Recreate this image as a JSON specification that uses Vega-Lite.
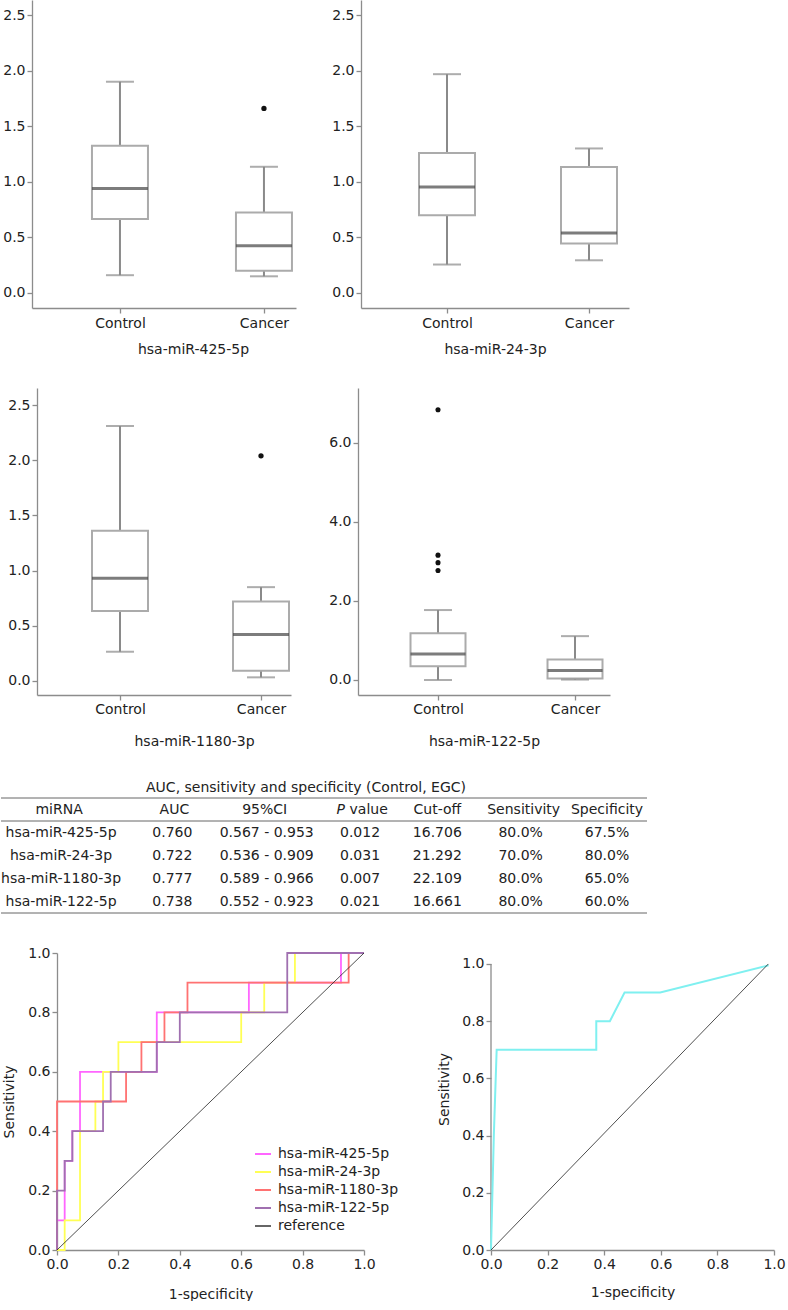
{
 "$schema": "https://vega.github.io/schema/vega-lite/v6.json",
 "background": "white",
 "padding": 0,
 "spacing": 32,
 "resolve": {"scale": {"color": "independent"}, "legend": {"color": "independent"}},
 "config": {
  "font": "DejaVu Sans",
  "view": {"stroke": null},
  "axis": {"labelFontSize": 14, "titleFontSize": 14, "titleFontWeight": "normal", "labelColor": "#222222", "titleColor": "#222222", "domainColor": "#8c8c8c", "tickColor": "#8c8c8c", "domainWidth": 1.3, "tickWidth": 1.3, "tickSize": 5, "labelPadding": 2, "grid": false},
  "text": {"fontSize": 14, "color": "#222222"}
 },
 "datasets": {
  "boxes": [
   {"mirna": "hsa-miR-425-5p", "group": "Control", "lower": 0.16, "q1": 0.665, "median": 0.94, "q3": 1.325, "upper": 1.9},
   {"mirna": "hsa-miR-425-5p", "group": "Cancer", "lower": 0.15, "q1": 0.2, "median": 0.425, "q3": 0.725, "upper": 1.135},
   {"mirna": "hsa-miR-24-3p", "group": "Control", "lower": 0.256, "q1": 0.7, "median": 0.954, "q3": 1.26, "upper": 1.968},
   {"mirna": "hsa-miR-24-3p", "group": "Cancer", "lower": 0.294, "q1": 0.445, "median": 0.54, "q3": 1.134, "upper": 1.3},
   {"mirna": "hsa-miR-1180-3p", "group": "Control", "lower": 0.265, "q1": 0.635, "median": 0.93, "q3": 1.36, "upper": 2.31},
   {"mirna": "hsa-miR-1180-3p", "group": "Cancer", "lower": 0.033, "q1": 0.093, "median": 0.42, "q3": 0.72, "upper": 0.85},
   {"mirna": "hsa-miR-122-5p", "group": "Control", "lower": 0.0, "q1": 0.35, "median": 0.66, "q3": 1.18, "upper": 1.77},
   {"mirna": "hsa-miR-122-5p", "group": "Cancer", "lower": 0.01, "q1": 0.04, "median": 0.24, "q3": 0.52, "upper": 1.11}
  ],
  "outliers": [
   {"mirna": "hsa-miR-425-5p", "group": "Cancer", "value": 1.66},
   {"mirna": "hsa-miR-1180-3p", "group": "Cancer", "value": 2.04},
   {"mirna": "hsa-miR-122-5p", "group": "Control", "value": 6.84},
   {"mirna": "hsa-miR-122-5p", "group": "Control", "value": 3.16},
   {"mirna": "hsa-miR-122-5p", "group": "Control", "value": 2.97},
   {"mirna": "hsa-miR-122-5p", "group": "Control", "value": 2.77}
  ],
  "table": [
   {"miRNA": "hsa-miR-425-5p", "AUC": "0.760", "CI": "0.567 - 0.953", "P": "0.012", "cutoff": "16.706", "sens": "80.0%", "spec": "67.5%"},
   {"miRNA": "hsa-miR-24-3p", "AUC": "0.722", "CI": "0.536 - 0.909", "P": "0.031", "cutoff": "21.292", "sens": "70.0%", "spec": "80.0%"},
   {"miRNA": "hsa-miR-1180-3p", "AUC": "0.777", "CI": "0.589 - 0.966", "P": "0.007", "cutoff": "22.109", "sens": "80.0%", "spec": "65.0%"},
   {"miRNA": "hsa-miR-122-5p", "AUC": "0.738", "CI": "0.552 - 0.923", "P": "0.021", "cutoff": "16.661", "sens": "80.0%", "spec": "60.0%"}
  ],
  "header": [
   {"miRNA": "miRNA", "AUC": "AUC", "CI": "95%CI", "P": "P", "Pv": "value", "cutoff": "Cut-off", "sens": "Sensitivity", "spec": "Specificity"}
  ],
  "roc": [
   {"series": "hsa-miR-425-5p", "fpr": 0, "tpr": 0},
   {"series": "hsa-miR-425-5p", "fpr": 0, "tpr": 0.1},
   {"series": "hsa-miR-425-5p", "fpr": 0.025, "tpr": 0.1},
   {"series": "hsa-miR-425-5p", "fpr": 0.025, "tpr": 0.3},
   {"series": "hsa-miR-425-5p", "fpr": 0.05, "tpr": 0.3},
   {"series": "hsa-miR-425-5p", "fpr": 0.05, "tpr": 0.4},
   {"series": "hsa-miR-425-5p", "fpr": 0.075, "tpr": 0.4},
   {"series": "hsa-miR-425-5p", "fpr": 0.075, "tpr": 0.6},
   {"series": "hsa-miR-425-5p", "fpr": 0.325, "tpr": 0.6},
   {"series": "hsa-miR-425-5p", "fpr": 0.325, "tpr": 0.8},
   {"series": "hsa-miR-425-5p", "fpr": 0.625, "tpr": 0.8},
   {"series": "hsa-miR-425-5p", "fpr": 0.625, "tpr": 0.9},
   {"series": "hsa-miR-425-5p", "fpr": 0.925, "tpr": 0.9},
   {"series": "hsa-miR-425-5p", "fpr": 0.925, "tpr": 1},
   {"series": "hsa-miR-425-5p", "fpr": 1, "tpr": 1},
   {"series": "hsa-miR-24-3p", "fpr": 0, "tpr": 0},
   {"series": "hsa-miR-24-3p", "fpr": 0.025, "tpr": 0},
   {"series": "hsa-miR-24-3p", "fpr": 0.025, "tpr": 0.1},
   {"series": "hsa-miR-24-3p", "fpr": 0.075, "tpr": 0.1},
   {"series": "hsa-miR-24-3p", "fpr": 0.075, "tpr": 0.4},
   {"series": "hsa-miR-24-3p", "fpr": 0.125, "tpr": 0.4},
   {"series": "hsa-miR-24-3p", "fpr": 0.125, "tpr": 0.5},
   {"series": "hsa-miR-24-3p", "fpr": 0.15, "tpr": 0.5},
   {"series": "hsa-miR-24-3p", "fpr": 0.15, "tpr": 0.6},
   {"series": "hsa-miR-24-3p", "fpr": 0.2, "tpr": 0.6},
   {"series": "hsa-miR-24-3p", "fpr": 0.2, "tpr": 0.7},
   {"series": "hsa-miR-24-3p", "fpr": 0.6, "tpr": 0.7},
   {"series": "hsa-miR-24-3p", "fpr": 0.6, "tpr": 0.8},
   {"series": "hsa-miR-24-3p", "fpr": 0.675, "tpr": 0.8},
   {"series": "hsa-miR-24-3p", "fpr": 0.675, "tpr": 0.9},
   {"series": "hsa-miR-24-3p", "fpr": 0.775, "tpr": 0.9},
   {"series": "hsa-miR-24-3p", "fpr": 0.775, "tpr": 1},
   {"series": "hsa-miR-24-3p", "fpr": 1, "tpr": 1},
   {"series": "hsa-miR-1180-3p", "fpr": 0, "tpr": 0},
   {"series": "hsa-miR-1180-3p", "fpr": 0, "tpr": 0.5},
   {"series": "hsa-miR-1180-3p", "fpr": 0.225, "tpr": 0.5},
   {"series": "hsa-miR-1180-3p", "fpr": 0.225, "tpr": 0.6},
   {"series": "hsa-miR-1180-3p", "fpr": 0.275, "tpr": 0.6},
   {"series": "hsa-miR-1180-3p", "fpr": 0.275, "tpr": 0.7},
   {"series": "hsa-miR-1180-3p", "fpr": 0.35, "tpr": 0.7},
   {"series": "hsa-miR-1180-3p", "fpr": 0.35, "tpr": 0.8},
   {"series": "hsa-miR-1180-3p", "fpr": 0.425, "tpr": 0.8},
   {"series": "hsa-miR-1180-3p", "fpr": 0.425, "tpr": 0.9},
   {"series": "hsa-miR-1180-3p", "fpr": 0.95, "tpr": 0.9},
   {"series": "hsa-miR-1180-3p", "fpr": 0.95, "tpr": 1},
   {"series": "hsa-miR-1180-3p", "fpr": 1, "tpr": 1},
   {"series": "hsa-miR-122-5p", "fpr": 0, "tpr": 0},
   {"series": "hsa-miR-122-5p", "fpr": 0, "tpr": 0.2},
   {"series": "hsa-miR-122-5p", "fpr": 0.025, "tpr": 0.2},
   {"series": "hsa-miR-122-5p", "fpr": 0.025, "tpr": 0.3},
   {"series": "hsa-miR-122-5p", "fpr": 0.05, "tpr": 0.3},
   {"series": "hsa-miR-122-5p", "fpr": 0.05, "tpr": 0.4},
   {"series": "hsa-miR-122-5p", "fpr": 0.15, "tpr": 0.4},
   {"series": "hsa-miR-122-5p", "fpr": 0.15, "tpr": 0.5},
   {"series": "hsa-miR-122-5p", "fpr": 0.175, "tpr": 0.5},
   {"series": "hsa-miR-122-5p", "fpr": 0.175, "tpr": 0.6},
   {"series": "hsa-miR-122-5p", "fpr": 0.325, "tpr": 0.6},
   {"series": "hsa-miR-122-5p", "fpr": 0.325, "tpr": 0.7},
   {"series": "hsa-miR-122-5p", "fpr": 0.4, "tpr": 0.7},
   {"series": "hsa-miR-122-5p", "fpr": 0.4, "tpr": 0.8},
   {"series": "hsa-miR-122-5p", "fpr": 0.75, "tpr": 0.8},
   {"series": "hsa-miR-122-5p", "fpr": 0.75, "tpr": 1},
   {"series": "hsa-miR-122-5p", "fpr": 1, "tpr": 1}
  ],
  "combined": [
   {"fpr": 0, "tpr": 0},
   {"fpr": 0.01, "tpr": 0.4},
   {"fpr": 0.02, "tpr": 0.7},
   {"fpr": 0.372, "tpr": 0.7},
   {"fpr": 0.372, "tpr": 0.8},
   {"fpr": 0.42, "tpr": 0.8},
   {"fpr": 0.472, "tpr": 0.9},
   {"fpr": 0.598, "tpr": 0.9},
   {"fpr": 0.981, "tpr": 0.995}
  ]
 },
 "vconcat": [
  {
   "spacing": 0,
   "hconcat": [
    {"width": 1, "height": 1, "view": {"fill": "#ffffff", "stroke": null}, "data": {"values": []}, "mark": "point"},
    {
     "width": 264, "height": 308,
     "data": {"name": "boxes"},
     "transform": [{"filter": "datum.mirna === 'hsa-miR-425-5p'"}],
     "encoding": {"x": {"field": "group", "type": "nominal", "scale": {"type": "point", "domain": ["Control", "Cancer"], "padding": 0.4167, "align": 0.733}, "axis": {"title": "hsa-miR-425-5p", "labelAngle": 0, "labelPadding": 3, "titleX": 161, "titlePadding": 12}}},
     "layer": [
      {"mark": {"type": "rule", "color": "#8a8a8a", "strokeWidth": 2}, "encoding": {"y": {"field": "lower", "type": "quantitative", "scale": {"domain": [-0.135, 2.635], "nice": false, "zero": false}, "axis": {"title": null, "values": [0, 0.5, 1, 1.5, 2, 2.5], "format": ".1f", "minExtent": 28, "maxExtent": 28}}, "y2": {"field": "upper"}}},
      {"mark": {"type": "bar", "fill": "#ffffff", "stroke": "#ababab", "strokeWidth": 2, "size": 56}, "encoding": {"y": {"field": "q1", "type": "quantitative", "scale": {"domain": [-0.135, 2.635], "nice": false, "zero": false}, "axis": {"title": null, "values": [0, 0.5, 1, 1.5, 2, 2.5], "format": ".1f", "minExtent": 28, "maxExtent": 28}}, "y2": {"field": "q3"}}},
      {"mark": {"type": "tick", "color": "#444444", "thickness": 3, "size": 56}, "encoding": {"y": {"field": "median", "type": "quantitative", "scale": {"domain": [-0.135, 2.635], "nice": false, "zero": false}, "axis": {"title": null, "values": [0, 0.5, 1, 1.5, 2, 2.5], "format": ".1f", "minExtent": 28, "maxExtent": 28}}}},
      {"mark": {"type": "tick", "color": "#8a8a8a", "thickness": 2, "size": 28}, "encoding": {"y": {"field": "lower", "type": "quantitative", "scale": {"domain": [-0.135, 2.635], "nice": false, "zero": false}, "axis": {"title": null, "values": [0, 0.5, 1, 1.5, 2, 2.5], "format": ".1f", "minExtent": 28, "maxExtent": 28}}}},
      {"mark": {"type": "tick", "color": "#8a8a8a", "thickness": 2, "size": 28}, "encoding": {"y": {"field": "upper", "type": "quantitative", "scale": {"domain": [-0.135, 2.635], "nice": false, "zero": false}, "axis": {"title": null, "values": [0, 0.5, 1, 1.5, 2, 2.5], "format": ".1f", "minExtent": 28, "maxExtent": 28}}}},
      {"data": {"name": "outliers"}, "transform": [{"filter": "datum.mirna === 'hsa-miR-425-5p'"}], "mark": {"type": "circle", "color": "#111111", "opacity": 1, "size": 28}, "encoding": {"y": {"field": "value", "type": "quantitative", "scale": {"domain": [-0.135, 2.635], "nice": false, "zero": false}, "axis": {"title": null, "values": [0, 0.5, 1, 1.5, 2, 2.5], "format": ".1f", "minExtent": 28, "maxExtent": 28}}}}
     ]
    },
    {
     "width": 268, "height": 308,
     "data": {"name": "boxes"},
     "transform": [{"filter": "datum.mirna === 'hsa-miR-24-3p'"}],
     "encoding": {"x": {"field": "group", "type": "nominal", "scale": {"type": "point", "domain": ["Control", "Cancer"], "padding": 0.4437, "align": 0.6825}, "axis": {"title": "hsa-miR-24-3p", "labelAngle": 0, "labelPadding": 3, "titleX": 134, "titlePadding": 12}}},
     "layer": [
      {"mark": {"type": "rule", "color": "#8a8a8a", "strokeWidth": 2}, "encoding": {"y": {"field": "lower", "type": "quantitative", "scale": {"domain": [-0.135, 2.635], "nice": false, "zero": false}, "axis": {"title": null, "values": [0, 0.5, 1, 1.5, 2, 2.5], "format": ".1f", "minExtent": 65, "maxExtent": 65}}, "y2": {"field": "upper"}}},
      {"mark": {"type": "bar", "fill": "#ffffff", "stroke": "#ababab", "strokeWidth": 2, "size": 56}, "encoding": {"y": {"field": "q1", "type": "quantitative", "scale": {"domain": [-0.135, 2.635], "nice": false, "zero": false}, "axis": {"title": null, "values": [0, 0.5, 1, 1.5, 2, 2.5], "format": ".1f", "minExtent": 65, "maxExtent": 65}}, "y2": {"field": "q3"}}},
      {"mark": {"type": "tick", "color": "#444444", "thickness": 3, "size": 56}, "encoding": {"y": {"field": "median", "type": "quantitative", "scale": {"domain": [-0.135, 2.635], "nice": false, "zero": false}, "axis": {"title": null, "values": [0, 0.5, 1, 1.5, 2, 2.5], "format": ".1f", "minExtent": 65, "maxExtent": 65}}}},
      {"mark": {"type": "tick", "color": "#8a8a8a", "thickness": 2, "size": 28}, "encoding": {"y": {"field": "lower", "type": "quantitative", "scale": {"domain": [-0.135, 2.635], "nice": false, "zero": false}, "axis": {"title": null, "values": [0, 0.5, 1, 1.5, 2, 2.5], "format": ".1f", "minExtent": 65, "maxExtent": 65}}}},
      {"mark": {"type": "tick", "color": "#8a8a8a", "thickness": 2, "size": 28}, "encoding": {"y": {"field": "upper", "type": "quantitative", "scale": {"domain": [-0.135, 2.635], "nice": false, "zero": false}, "axis": {"title": null, "values": [0, 0.5, 1, 1.5, 2, 2.5], "format": ".1f", "minExtent": 65, "maxExtent": 65}}}}
     ]
    }
   ]
  },
  {
   "spacing": 0,
   "hconcat": [
    {"width": 1, "height": 1, "view": {"fill": "#ffffff", "stroke": null}, "data": {"values": []}, "mark": "point"},
    {
     "width": 254, "height": 307,
     "data": {"name": "boxes"},
     "transform": [{"filter": "datum.mirna === 'hsa-miR-1180-3p'"}],
     "encoding": {"x": {"field": "group", "type": "nominal", "scale": {"type": "point", "domain": ["Control", "Cancer"], "padding": 0.4007, "align": 0.7345}, "axis": {"title": "hsa-miR-1180-3p", "labelAngle": 0, "labelPadding": 2, "titleX": 157, "titlePadding": 18}}},
     "layer": [
      {"mark": {"type": "rule", "color": "#8a8a8a", "strokeWidth": 2}, "encoding": {"y": {"field": "lower", "type": "quantitative", "scale": {"domain": [-0.127, 2.654], "nice": false, "zero": false}, "axis": {"title": null, "values": [0, 0.5, 1, 1.5, 2, 2.5], "format": ".1f", "minExtent": 35, "maxExtent": 35}}, "y2": {"field": "upper"}}},
      {"mark": {"type": "bar", "fill": "#ffffff", "stroke": "#ababab", "strokeWidth": 2, "size": 56}, "encoding": {"y": {"field": "q1", "type": "quantitative", "scale": {"domain": [-0.127, 2.654], "nice": false, "zero": false}, "axis": {"title": null, "values": [0, 0.5, 1, 1.5, 2, 2.5], "format": ".1f", "minExtent": 35, "maxExtent": 35}}, "y2": {"field": "q3"}}},
      {"mark": {"type": "tick", "color": "#444444", "thickness": 3, "size": 56}, "encoding": {"y": {"field": "median", "type": "quantitative", "scale": {"domain": [-0.127, 2.654], "nice": false, "zero": false}, "axis": {"title": null, "values": [0, 0.5, 1, 1.5, 2, 2.5], "format": ".1f", "minExtent": 35, "maxExtent": 35}}}},
      {"mark": {"type": "tick", "color": "#8a8a8a", "thickness": 2, "size": 28}, "encoding": {"y": {"field": "lower", "type": "quantitative", "scale": {"domain": [-0.127, 2.654], "nice": false, "zero": false}, "axis": {"title": null, "values": [0, 0.5, 1, 1.5, 2, 2.5], "format": ".1f", "minExtent": 35, "maxExtent": 35}}}},
      {"mark": {"type": "tick", "color": "#8a8a8a", "thickness": 2, "size": 28}, "encoding": {"y": {"field": "upper", "type": "quantitative", "scale": {"domain": [-0.127, 2.654], "nice": false, "zero": false}, "axis": {"title": null, "values": [0, 0.5, 1, 1.5, 2, 2.5], "format": ".1f", "minExtent": 35, "maxExtent": 35}}}},
      {"data": {"name": "outliers"}, "transform": [{"filter": "datum.mirna === 'hsa-miR-1180-3p'"}], "mark": {"type": "circle", "color": "#111111", "opacity": 1, "size": 28}, "encoding": {"y": {"field": "value", "type": "quantitative", "scale": {"domain": [-0.127, 2.654], "nice": false, "zero": false}, "axis": {"title": null, "values": [0, 0.5, 1, 1.5, 2, 2.5], "format": ".1f", "minExtent": 35, "maxExtent": 35}}}}
     ]
    },
    {
     "width": 252, "height": 307,
     "data": {"name": "boxes"},
     "transform": [{"filter": "datum.mirna === 'hsa-miR-122-5p'"}],
     "encoding": {"x": {"field": "group", "type": "nominal", "scale": {"type": "point", "domain": ["Control", "Cancer"], "padding": 0.4197, "align": 0.6957}, "axis": {"title": "hsa-miR-122-5p", "labelAngle": 0, "labelPadding": 2, "titleX": 126, "titlePadding": 18}}},
     "layer": [
      {"mark": {"type": "rule", "color": "#8a8a8a", "strokeWidth": 2}, "encoding": {"y": {"field": "lower", "type": "quantitative", "scale": {"domain": [-0.38, 7.39], "nice": false, "zero": false}, "axis": {"title": null, "values": [0, 2, 4, 6], "format": ".1f", "minExtent": 67, "maxExtent": 67}}, "y2": {"field": "upper"}}},
      {"mark": {"type": "bar", "fill": "#ffffff", "stroke": "#ababab", "strokeWidth": 2, "size": 55}, "encoding": {"y": {"field": "q1", "type": "quantitative", "scale": {"domain": [-0.38, 7.39], "nice": false, "zero": false}, "axis": {"title": null, "values": [0, 2, 4, 6], "format": ".1f", "minExtent": 67, "maxExtent": 67}}, "y2": {"field": "q3"}}},
      {"mark": {"type": "tick", "color": "#444444", "thickness": 3, "size": 55}, "encoding": {"y": {"field": "median", "type": "quantitative", "scale": {"domain": [-0.38, 7.39], "nice": false, "zero": false}, "axis": {"title": null, "values": [0, 2, 4, 6], "format": ".1f", "minExtent": 67, "maxExtent": 67}}}},
      {"mark": {"type": "tick", "color": "#8a8a8a", "thickness": 2, "size": 28}, "encoding": {"y": {"field": "lower", "type": "quantitative", "scale": {"domain": [-0.38, 7.39], "nice": false, "zero": false}, "axis": {"title": null, "values": [0, 2, 4, 6], "format": ".1f", "minExtent": 67, "maxExtent": 67}}}},
      {"mark": {"type": "tick", "color": "#8a8a8a", "thickness": 2, "size": 28}, "encoding": {"y": {"field": "upper", "type": "quantitative", "scale": {"domain": [-0.38, 7.39], "nice": false, "zero": false}, "axis": {"title": null, "values": [0, 2, 4, 6], "format": ".1f", "minExtent": 67, "maxExtent": 67}}}},
      {"data": {"name": "outliers"}, "transform": [{"filter": "datum.mirna === 'hsa-miR-122-5p'"}], "mark": {"type": "circle", "color": "#111111", "opacity": 1, "size": 26}, "encoding": {"y": {"field": "value", "type": "quantitative", "scale": {"domain": [-0.38, 7.39], "nice": false, "zero": false}, "axis": {"title": null, "values": [0, 2, 4, 6], "format": ".1f", "minExtent": 67, "maxExtent": 67}}}}
     ]
    }
   ]
  },
  {
   "width": 646, "height": 115,
   "title": {"text": "AUC, sensitivity and specificity (Control, EGC)", "fontSize": 14, "fontWeight": "normal", "color": "#222222", "anchor": "middle", "offset": 3, "dx": -18},
   "data": {"name": "table"},
   "encoding": {"y": {"field": "miRNA", "type": "nominal", "scale": {"type": "band", "domain": ["header", "hsa-miR-425-5p", "hsa-miR-24-3p", "hsa-miR-1180-3p", "hsa-miR-122-5p"], "paddingInner": 0, "paddingOuter": 0}, "axis": null}},
   "layer": [
    {"data": {"values": [{}]}, "mark": {"type": "rule", "color": "#666666", "strokeWidth": 1}, "encoding": {"y": {"datum": "header", "type": "nominal", "bandPosition": 0}}},
    {"data": {"values": [{}]}, "mark": {"type": "rule", "color": "#666666", "strokeWidth": 1}, "encoding": {"y": {"datum": "header", "type": "nominal", "bandPosition": 1}}},
    {"data": {"values": [{}]}, "mark": {"type": "rule", "color": "#666666", "strokeWidth": 1}, "encoding": {"y": {"datum": "hsa-miR-122-5p", "type": "nominal", "bandPosition": 1}}},
    {"mark": {"type": "text", "fontSize": 14, "dx": 2}, "encoding": {"x": {"datum": "miRNA", "type": "nominal", "scale": {"type": "point", "domain": ["miRNA", "AUC", "95%CI", "P value", "Cut-off", "Sensitivity", "Specificity"], "padding": 0.537, "align": 0.592}, "axis": null}, "text": {"field": "miRNA"}}},
    {"mark": {"type": "text", "fontSize": 14, "dx": 22}, "encoding": {"x": {"datum": "AUC", "type": "nominal", "scale": {"type": "point", "domain": ["miRNA", "AUC", "95%CI", "P value", "Cut-off", "Sensitivity", "Specificity"], "padding": 0.537, "align": 0.592}, "axis": null}, "text": {"field": "AUC"}}},
    {"mark": {"type": "text", "fontSize": 14, "dx": 25}, "encoding": {"x": {"datum": "95%CI", "type": "nominal", "scale": {"type": "point", "domain": ["miRNA", "AUC", "95%CI", "P value", "Cut-off", "Sensitivity", "Specificity"], "padding": 0.537, "align": 0.592}, "axis": null}, "text": {"field": "CI"}}},
    {"mark": {"type": "text", "fontSize": 14, "dx": 27}, "encoding": {"x": {"datum": "P value", "type": "nominal", "scale": {"type": "point", "domain": ["miRNA", "AUC", "95%CI", "P value", "Cut-off", "Sensitivity", "Specificity"], "padding": 0.537, "align": 0.592}, "axis": null}, "text": {"field": "P"}}},
    {"mark": {"type": "text", "fontSize": 14, "dx": 13}, "encoding": {"x": {"datum": "Cut-off", "type": "nominal", "scale": {"type": "point", "domain": ["miRNA", "AUC", "95%CI", "P value", "Cut-off", "Sensitivity", "Specificity"], "padding": 0.537, "align": 0.592}, "axis": null}, "text": {"field": "cutoff"}}},
    {"mark": {"type": "text", "fontSize": 14, "dx": 5}, "encoding": {"x": {"datum": "Sensitivity", "type": "nominal", "scale": {"type": "point", "domain": ["miRNA", "AUC", "95%CI", "P value", "Cut-off", "Sensitivity", "Specificity"], "padding": 0.537, "align": 0.592}, "axis": null}, "text": {"field": "sens"}}},
    {"mark": {"type": "text", "fontSize": 14, "dx": 0}, "encoding": {"x": {"datum": "Specificity", "type": "nominal", "scale": {"type": "point", "domain": ["miRNA", "AUC", "95%CI", "P value", "Cut-off", "Sensitivity", "Specificity"], "padding": 0.537, "align": 0.592}, "axis": null}, "text": {"field": "spec"}}},
    {"data": {"name": "header"}, "mark": {"type": "text", "fontSize": 14, "dx": 0}, "encoding": {"x": {"datum": "miRNA", "type": "nominal", "scale": {"type": "point", "domain": ["miRNA", "AUC", "95%CI", "P value", "Cut-off", "Sensitivity", "Specificity"], "padding": 0.537, "align": 0.592}, "axis": null}, "y": {"datum": "header", "type": "nominal"}, "text": {"field": "miRNA"}}},
    {"data": {"name": "header"}, "mark": {"type": "text", "fontSize": 14, "dx": 24}, "encoding": {"x": {"datum": "AUC", "type": "nominal", "scale": {"type": "point", "domain": ["miRNA", "AUC", "95%CI", "P value", "Cut-off", "Sensitivity", "Specificity"], "padding": 0.537, "align": 0.592}, "axis": null}, "y": {"datum": "header", "type": "nominal"}, "text": {"field": "AUC"}}},
    {"data": {"name": "header"}, "mark": {"type": "text", "fontSize": 14, "dx": 23}, "encoding": {"x": {"datum": "95%CI", "type": "nominal", "scale": {"type": "point", "domain": ["miRNA", "AUC", "95%CI", "P value", "Cut-off", "Sensitivity", "Specificity"], "padding": 0.537, "align": 0.592}, "axis": null}, "y": {"datum": "header", "type": "nominal"}, "text": {"field": "CI"}}},
    {"data": {"name": "header"}, "mark": {"type": "text", "fontSize": 14, "dx": 12, "align": "right", "fontStyle": "italic"}, "encoding": {"x": {"datum": "P value", "type": "nominal", "scale": {"type": "point", "domain": ["miRNA", "AUC", "95%CI", "P value", "Cut-off", "Sensitivity", "Specificity"], "padding": 0.537, "align": 0.592}, "axis": null}, "y": {"datum": "header", "type": "nominal"}, "text": {"field": "P"}}},
    {"data": {"name": "header"}, "mark": {"type": "text", "fontSize": 14, "dx": 16.5, "align": "left"}, "encoding": {"x": {"datum": "P value", "type": "nominal", "scale": {"type": "point", "domain": ["miRNA", "AUC", "95%CI", "P value", "Cut-off", "Sensitivity", "Specificity"], "padding": 0.537, "align": 0.592}, "axis": null}, "y": {"datum": "header", "type": "nominal"}, "text": {"field": "Pv"}}},
    {"data": {"name": "header"}, "mark": {"type": "text", "fontSize": 14, "dx": 13}, "encoding": {"x": {"datum": "Cut-off", "type": "nominal", "scale": {"type": "point", "domain": ["miRNA", "AUC", "95%CI", "P value", "Cut-off", "Sensitivity", "Specificity"], "padding": 0.537, "align": 0.592}, "axis": null}, "y": {"datum": "header", "type": "nominal"}, "text": {"field": "cutoff"}}},
    {"data": {"name": "header"}, "mark": {"type": "text", "fontSize": 14, "dx": 8}, "encoding": {"x": {"datum": "Sensitivity", "type": "nominal", "scale": {"type": "point", "domain": ["miRNA", "AUC", "95%CI", "P value", "Cut-off", "Sensitivity", "Specificity"], "padding": 0.537, "align": 0.592}, "axis": null}, "y": {"datum": "header", "type": "nominal"}, "text": {"field": "sens"}}},
    {"data": {"name": "header"}, "mark": {"type": "text", "fontSize": 14, "dx": 0}, "encoding": {"x": {"datum": "Specificity", "type": "nominal", "scale": {"type": "point", "domain": ["miRNA", "AUC", "95%CI", "P value", "Cut-off", "Sensitivity", "Specificity"], "padding": 0.537, "align": 0.592}, "axis": null}, "y": {"datum": "header", "type": "nominal"}, "text": {"field": "spec"}}}
   ]
  },
  {
   "spacing": 0,
   "resolve": {"scale": {"color": "independent"}, "legend": {"color": "independent"}},
   "hconcat": [
    {"width": 1, "height": 1, "view": {"fill": "#ffffff", "stroke": null}, "data": {"values": []}, "mark": "point"},
    {
     "width": 307, "height": 297,
     "layer": [
      {"data": {"name": "roc"}, "mark": {"type": "line", "strokeWidth": 1.8},
       "encoding": {
        "x": {"field": "fpr", "type": "quantitative", "scale": {"domain": [0, 1], "nice": false, "zero": false}, "axis": {"title": "1-specificity", "values": [0, 0.2, 0.4, 0.6, 0.8, 1], "format": ".1f", "labelFlush": false, "titlePadding": 16}},
        "y": {"field": "tpr", "type": "quantitative", "scale": {"domain": [0, 1], "nice": false, "zero": false}, "axis": {"title": "Sensitivity", "values": [0, 0.2, 0.4, 0.6, 0.8, 1], "format": ".1f", "labelFlush": false, "minExtent": 30, "maxExtent": 30, "titlePadding": 11}},
        "color": {"field": "series", "type": "nominal", "scale": {"domain": ["hsa-miR-425-5p", "hsa-miR-24-3p", "hsa-miR-1180-3p", "hsa-miR-122-5p", "reference"], "range": ["#ff66ff", "#ffff55", "#ff7272", "#a070b0", "#666666"]}, "legend": {"title": null, "orient": "none", "legendX": 197, "legendY": 192, "labelFontSize": 14, "labelColor": "#222222", "symbolType": "stroke", "symbolSize": 256, "symbolStrokeWidth": 2, "rowPadding": 2, "labelOffset": 6, "padding": 0, "labelLimit": 200}},
        "order": [{"field": "fpr", "type": "quantitative"}, {"field": "tpr", "type": "quantitative"}]
       }},
      {"data": {"values": [{"fpr": 0, "tpr": 0}, {"fpr": 1, "tpr": 1}]}, "mark": {"type": "line", "color": "#222222", "strokeWidth": 0.8},
       "encoding": {
        "x": {"field": "fpr", "type": "quantitative", "title": "1-specificity"},
        "y": {"field": "tpr", "type": "quantitative", "title": "Sensitivity"}
       }}
     ]
    },
    {
     "width": 283, "height": 297,
     "layer": [
      {"data": {"values": [{}]}, "mark": {"type": "rule", "color": "#8c8c8c", "strokeWidth": 1.3},
       "encoding": {
        "x": {"datum": 0, "type": "quantitative", "scale": {"domain": [0, 1], "nice": false, "zero": false}, "axis": {"title": "1-specificity", "values": [0, 0.2, 0.4, 0.6, 0.8, 1], "format": ".1f", "labelFlush": false, "titlePadding": 14}},
        "y": {"datum": 0, "type": "quantitative", "scale": {"domain": [0, 1.0383], "nice": false, "zero": false}, "axis": {"title": "Sensitivity", "domain": false, "values": [0, 0.2, 0.4, 0.6, 0.8, 1], "format": ".1f", "labelFlush": false, "minExtent": 92, "maxExtent": 92, "titleX": -40, "titleY": 136}},
        "y2": {"datum": 1}
       }},
      {"data": {"name": "combined"}, "mark": {"type": "line", "strokeWidth": 2, "color": "#7ff0f0"},
       "encoding": {
        "x": {"field": "fpr", "type": "quantitative", "title": "1-specificity"},
        "y": {"field": "tpr", "type": "quantitative", "title": "Sensitivity"},
        "order": [{"field": "fpr", "type": "quantitative"}, {"field": "tpr", "type": "quantitative"}]
       }},
      {"data": {"values": [{"fpr": 0, "tpr": 0}, {"fpr": 0.98, "tpr": 1}]}, "mark": {"type": "line", "color": "#222222", "strokeWidth": 0.8},
       "encoding": {
        "x": {"field": "fpr", "type": "quantitative", "title": "1-specificity"},
        "y": {"field": "tpr", "type": "quantitative", "title": "Sensitivity"}
       }}
     ]
    }
   ]
  }
 ]
}
